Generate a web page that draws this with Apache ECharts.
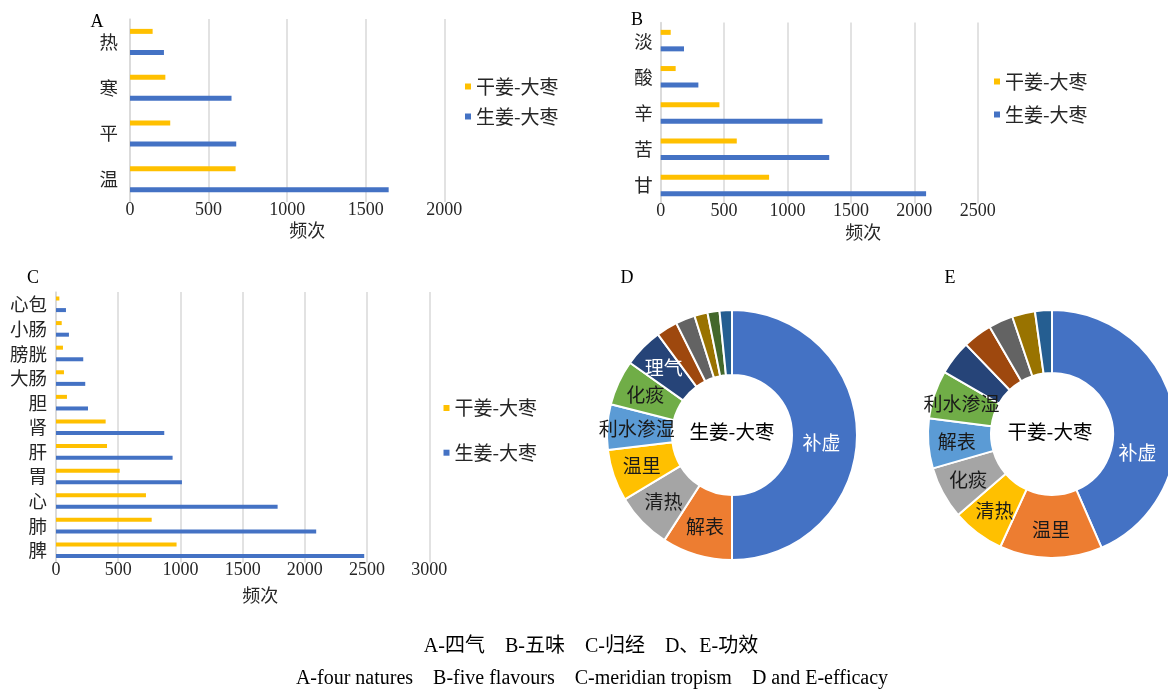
<!DOCTYPE html>
<html>
<head>
<meta charset="utf-8">
<script src="https://cdn.jsdelivr.net/npm/echarts@6/dist/echarts.min.js"></script>
<style>
  html, body { margin: 0; padding: 0; background: #fff; }
  #chart { width: 1168px; height: 689px; }
</style>
</head>
<body>
<div id="chart"></div>
<script>
// Series names
const seriesDry = '干姜-大枣';
const seriesFresh = '生姜-大枣';

// A: four natures (bottom to top)
const natureCats = ['温', '平', '寒', '热'];
const natureDry = [672, 256, 225, 144];
const natureFresh = [1646, 676, 646, 216];

// B: five flavours (bottom to top)
const flavourCats = ['甘', '苦', '辛', '酸', '淡'];
const flavourDry = [855, 600, 463, 118, 79];
const flavourFresh = [2093, 1329, 1276, 297, 184];

// C: meridian tropism (bottom to top)
const meridianCats = ['脾', '肺', '心', '胃', '肝', '肾', '胆', '大肠', '膀胱', '小肠', '心包'];
const meridianDry = [969, 769, 723, 512, 410, 399, 88, 64, 56, 46, 27];
const meridianFresh = [2477, 2091, 1781, 1012, 937, 870, 257, 235, 219, 104, 80];

// D: efficacy share, 生姜-大枣 (%)
const effFreshNames = ['补虚', '解表', '清热', '温里', '利水渗湿', '化痰', '理气', '', '', '', '', ''];
const effFreshValues = [50.0, 9.1, 7.3, 6.7, 5.85, 5.85, 5.1, 2.75, 2.5, 1.7, 1.55, 1.6];

// E: efficacy share, 干姜-大枣 (%)
const effDryNames = ['补虚', '温里', '清热', '化痰', '解表', '利水渗湿', '', '', '', '', ''];
const effDryValues = [43.5, 13.4, 6.85, 6.85, 6.5, 6.3, 4.5, 3.8, 3.2, 3.0, 2.2];

// Axis ticks
const xMaxA = 2000, xMaxB = 2500, xMaxC = 3000, xStep = 500;

// Styling
const YELLOW = '#FFC000', BLUE = '#4472C4';
const paletteD = ['#4472C4', '#ED7D31', '#A5A5A5', '#FFC000', '#5B9BD5', '#70AD47',
                  '#264478', '#9E480E', '#636363', '#997300', '#43682B', '#255E91'];
const paletteE = ['#4472C4', '#ED7D31', '#FFC000', '#A5A5A5', '#5B9BD5', '#70AD47',
                  '#264478', '#9E480E', '#636363', '#997300', '#255E91'];
const FONT = '"Liberation Serif", "Noto Sans CJK SC", serif';
const CJK = '"Noto Sans CJK SC", sans-serif';
const TEXT = '#262626';

function valueAxis(gridIndex, max, nameGap, shift) {
  return {
    type: 'value', gridIndex, min: 0, max, interval: xStep,
    axisLine: { show: false }, axisTick: { show: false },
    splitLine: { show: true, lineStyle: { color: '#D9D9D9', width: 1.5 } },
    axisLabel: { margin: -1, fontFamily: FONT, fontSize: 18, color: TEXT,
                 formatter: (v) => String(v) },
    name: '频次', nameLocation: 'middle', nameGap,
    nameTextStyle: { fontFamily: CJK, fontSize: 18, color: TEXT, padding: [0, 0, 0, shift] }
  };
}
function catAxis(gridIndex, data, margin) {
  return {
    type: 'category', gridIndex, data,
    axisLine: { show: true, lineStyle: { color: '#D9D9D9', width: 1.5 } },
    axisTick: { show: false },
    axisLabel: { margin, fontFamily: CJK, fontSize: 18.5, color: TEXT }
  };
}
function bars(name, idx, data, color, width, gap) {
  return {
    type: 'bar', name, xAxisIndex: idx, yAxisIndex: idx, data,
    barWidth: width, barGap: gap,
    itemStyle: { color }, silent: true
  };
}
function legend(left, top, gap) {
  return {
    orient: 'vertical', left, top, itemGap: gap,
    itemWidth: 6, itemHeight: 6, icon: 'rect',
    data: [seriesDry, seriesFresh],
    textStyle: { fontFamily: CJK, fontSize: 19, color: TEXT, lineHeight: 19 }
  };
}
function pieData(names, values, palette, lightNames) {
  return values.map((v, i) => ({
    name: names[i], value: v,
    itemStyle: { color: palette[i] },
    label: { color: lightNames.includes(names[i]) ? '#ffffff' : '#1a1a1a' }
  }));
}
function donut(center, radius, data, firstLabelShift) {
  return {
    type: 'pie', center, radius, startAngle: 90, clockwise: true,
    avoidLabelOverlap: false, silent: true,
    itemStyle: { borderColor: '#ffffff', borderWidth: 2 },
    label: { show: true, position: 'inside', formatter: '{b}', fontFamily: CJK, fontSize: 19 },
    labelLine: { show: false },
    // the largest slice keeps its label a little lower, toward the ring's right side
    labelLayout: (p) => p.dataIndex === 0 ? { dx: firstLabelShift[0], dy: firstLabelShift[1] } : {},
    data
  };
}
function txt(x, y, text, font) {
  return {
    type: 'text', x, y,
    style: { text, x: 0, y: 0, textAlign: 'center', textVerticalAlign: 'middle',
             font: font || ('18px ' + FONT), fill: '#000' }
  };
}

const chart = echarts.init(document.getElementById('chart'));
chart.setOption({
  animation: false,
  backgroundColor: '#ffffff',
  grid: [
    { left: 130, top: 19, width: 314.3, height: 183 },
    { left: 660.7, top: 22.5, width: 317, height: 181 },
    { left: 56, top: 292, width: 373.3, height: 270.5 }
  ],
  xAxis: [
    valueAxis(0, xMaxA, 19, 40),
    valueAxis(1, xMaxB, 20, 88),
    valueAxis(2, xMaxC, 24, 35)
  ],
  yAxis: [
    catAxis(0, natureCats, 12),
    catAxis(1, flavourCats, 8),
    catAxis(2, meridianCats, 9)
  ],
  legend: [
    legend(460, 72, 11),
    legend(989, 67, 14),
    legend(438.5, 393.5, 25.7)
  ],
  series: [
    bars(seriesDry, 0, natureDry, YELLOW, 5, '320%'),
    bars(seriesFresh, 0, natureFresh, BLUE, 5, '320%'),
    bars(seriesDry, 1, flavourDry, YELLOW, 5, '230%'),
    bars(seriesFresh, 1, flavourFresh, BLUE, 5, '230%'),
    bars(seriesDry, 2, meridianDry, YELLOW, 4, '190%'),
    bars(seriesFresh, 2, meridianFresh, BLUE, 4, '190%'),
    donut([732, 435], [60, 125], pieData(effFreshNames, effFreshValues, paletteD, ['补虚', '理气']), [-6, 8]),
    donut([1052, 434], [61, 124], pieData(effDryNames, effDryValues, paletteE, ['补虚']), [-8, 38])
  ],
  graphic: [
    txt(97, 22, 'A'),
    txt(637, 20, 'B'),
    txt(33, 278, 'C'),
    txt(627, 278, 'D'),
    txt(950, 278, 'E'),
    txt(732, 432, '生姜-大枣', '19.5px ' + CJK),
    txt(1050, 432, '干姜-大枣', '19.5px ' + CJK),
    txt(591, 647, 'A-四气    B-五味    C-归经    D、E-功效', '20px ' + FONT),
    txt(592, 679, 'A-four natures    B-five flavours    C-meridian tropism    D and E-efficacy', '20px ' + FONT)
  ]
});
</script>
</body>
</html>
